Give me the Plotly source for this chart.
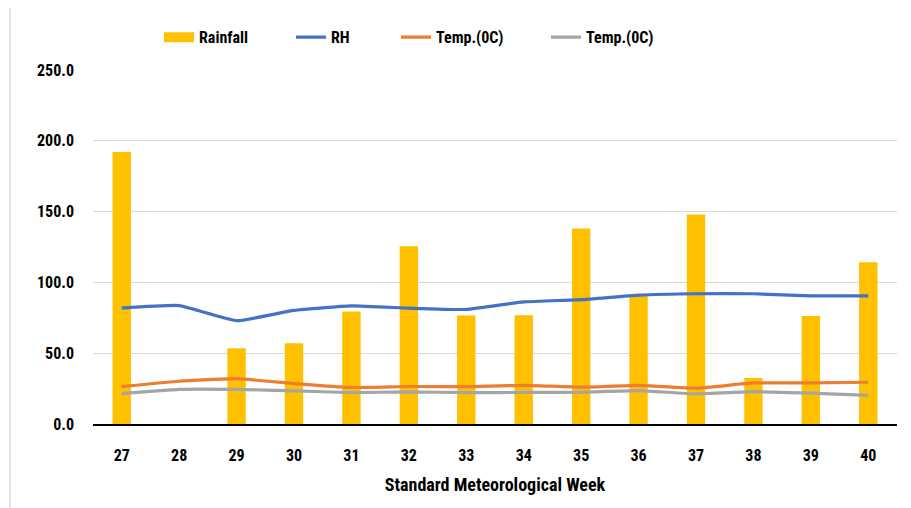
import plotly.graph_objects as go

weeks = ["27", "28", "29", "30", "31", "32", "33", "34", "35", "36", "37", "38", "39", "40"]
rainfall = [192.1, 0.0, 53.5, 57.0, 79.5, 125.5, 76.6, 76.8, 138.0, 90.5, 148.0, 32.5, 76.2, 114.3]
rh = [81.8, 83.6, 73.0, 80.2, 83.4, 81.8, 80.9, 86.2, 87.8, 91.0, 92.0, 92.0, 90.5, 90.5]
temp_max = [26.4, 30.2, 32.0, 28.5, 25.8, 26.5, 26.4, 27.3, 26.0, 27.3, 25.3, 29.0, 29.0, 29.5]
temp_min = [21.5, 24.5, 24.5, 23.4, 22.2, 22.7, 22.1, 22.3, 22.4, 23.5, 21.3, 22.8, 21.8, 20.2]
yticks = [0, 50, 100, 150, 200, 250]
yticklabels = ["0.0", "50.0", "100.0", "150.0", "200.0", "250.0"]

FONT = "Roboto Condensed, Roboto, Liberation Sans, sans-serif"

# page body has an 8px offset; work in screen coordinates
OFF = 8
PL, PR, PT, PB = 93, 897, 67, 424   # plot area in screen pixels
W, H = 911, 508
pw, ph = PR - PL, PB - PT
def px(x):
    return (x - PL) / pw
def py(y):
    return (PB - y) / ph

fig = go.Figure()
fig.add_trace(go.Bar(x=weeks, y=rainfall, name="Rainfall", marker=dict(color="#FFC000", line=dict(width=0)),
                     width=0.32, showlegend=False))
# legend swatch for rainfall (wide rectangle like the reference)
fig.add_trace(go.Scatter(x=[weeks[0]], y=[None], name="<b>Rainfall</b>", mode="lines",
                         line=dict(color="#FFC000", width=10), legend="legend", hoverinfo="skip"))
fig.add_trace(go.Scatter(x=weeks, y=rh, name="<b>RH</b>", mode="lines",
                         line=dict(color="#4472C4", width=3.2, shape="spline", smoothing=0.4), legend="legend2"))
fig.add_trace(go.Scatter(x=weeks, y=temp_max, name="<b>Temp.(0C)</b>", mode="lines",
                         line=dict(color="#ED7D31", width=3.2, shape="spline", smoothing=0.4), legend="legend3"))
fig.add_trace(go.Scatter(x=weeks, y=temp_min, name="<b>Temp.(0C)</b>", mode="lines",
                         line=dict(color="#A5A5A5", width=3.2, shape="spline", smoothing=0.4), legend="legend4"))

legend_common = dict(orientation="h", yanchor="middle", y=py(34), xanchor="left",
                     font=dict(family=FONT, size=16, color="#000000"), bgcolor="rgba(0,0,0,0)",
                     itemclick=False, itemdoubleclick=False)

fig.update_layout(
    width=W, height=H,
    margin=dict(l=PL - OFF, r=W - (PR - OFF), t=PT - OFF, b=H - (PB - OFF)),
    paper_bgcolor="white", plot_bgcolor="white",
    font=dict(family=FONT, color="#000000"),
    showlegend=True,
    legend=dict(legend_common, x=px(159)),
    legend2=dict(legend_common, x=px(291)),
    legend3=dict(legend_common, x=px(396)),
    legend4=dict(legend_common, x=px(546)),
    xaxis=dict(
        type="category", showgrid=False, showline=True, linecolor="#000000", linewidth=1.5,
        ticks="", ticklabelstandoff=16, tickfont=dict(family=FONT, size=16, color="#000000", weight="bold"),
        title=dict(text="<b>Standard Meteorological Week</b>", font=dict(family=FONT, size=18, color="#000000"),
                   standoff=14),
    ),
    yaxis=dict(
        range=[0, 250], tickvals=yticks, ticktext=yticklabels, showgrid=True, gridcolor="#D9D9D9", gridwidth=1,
        zeroline=False, showline=False, ticks="", ticklabelstandoff=18,
        tickfont=dict(family=FONT, size=16, color="#000000", weight="bold"),
    ),
    shapes=[dict(type="line", xref="paper", yref="paper", x0=px(10), x1=px(10), y0=py(H + 20),
                 y1=py(-20), line=dict(color="#D9D9D9", width=1.5))],
)

fig.write_html("out.html")
